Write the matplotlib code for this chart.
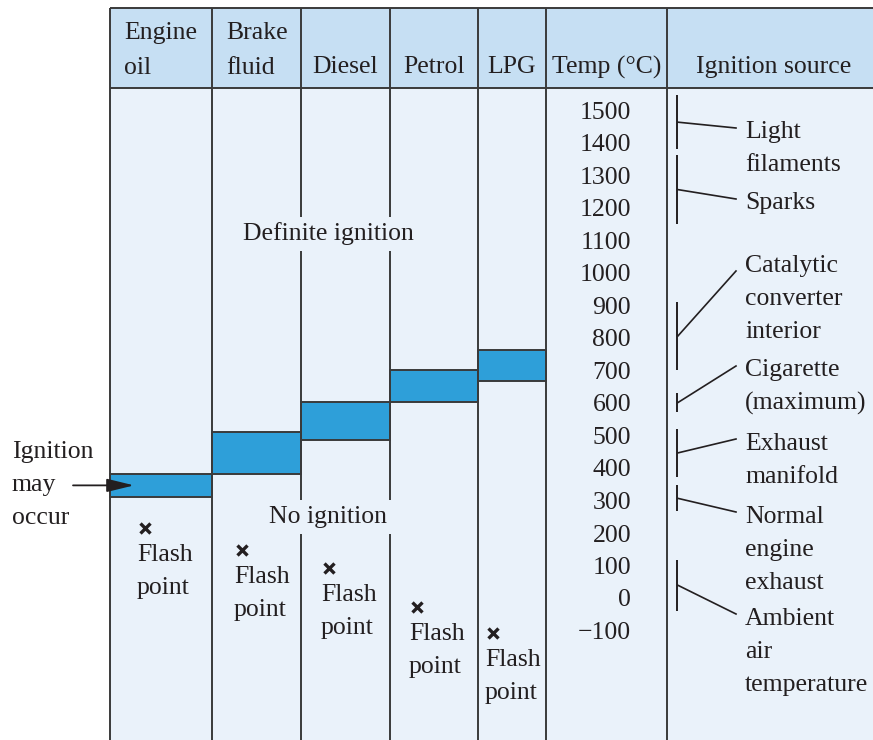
import matplotlib.pyplot as plt
from matplotlib.patches import Rectangle
from matplotlib.transforms import offset_copy

# values, temperatures in degrees C
fuels = ["Engine\noil", "Brake\nfluid", "Diesel", "Petrol", "LPG"]
ignition_low = [310, 380, 485, 600, 665]
ignition_high = [380, 510, 600, 700, 760]
flash_point = [215, 145, 90, -30, -110]

temp_ticks = [1500, 1400, 1300, 1200, 1100, 1000, 900, 800,
              700, 600, 500, 400, 300, 200, 100, 0, -100]
temp_labels = ["1500", "1400", "1300", "1200", "1100", "1000", "900", "800",
               "700", "600", "500", "400", "300", "200", "100", "0", "\u2212100"]

sources = ["Light\nfilaments", "Sparks", "Catalytic\nconverter\ninterior",
           "Cigarette\n(maximum)", "Exhaust\nmanifold",
           "Normal\nengine\nexhaust", "Ambient\nair\ntemperature"]
source_low = [1380, 1150, 700, 570, 370, 265, -40]
source_high = [1545, 1360, 910, 630, 520, 345, 115]

# layout (pixel rows/columns of the 873x740 picture)
PX_ZERO = 597.5      # pixel row of 0 degC
PX_PER_DEG = 0.325


def t_of(py):
    return (PX_ZERO - py) / PX_PER_DEG


col_edges = [110, 212, 301, 390, 478, 546, 667, 873]
TOP, HEAD_BOT, BOTTOM = 8, 88, 740
flash_x = [145, 242, 329, 417, 493]
leader_end_px = [128, 199, 271, 366, 439, 512, 614]
label_top_px = [121, 192, 255, 359, 433, 506, 608]

HEAD = "#c6dff3"
BODY = "#eaf2fa"
BAND = "#2e9fd9"
LINE = "#3a3a3a"
INK = "#231f20"

plt.rcParams['font.family'] = ['Liberation Serif', 'DejaVu Serif']
plt.rcParams['font.size'] = 18.5
plt.rcParams['text.color'] = INK
LS = 1.64

fig = plt.figure(figsize=(8.73, 7.40), dpi=100)
ax = fig.add_axes([0, 0, 1, 1])
ax.set_xlim(0, 873)
ax.set_ylim(t_of(BOTTOM), t_of(0))
ax.axis('off')
# single line texts sit a bit low in the original
low = offset_copy(ax.transData, fig=fig, y=-3, units='dots')

# hintergruende
ax.add_patch(Rectangle((col_edges[0], t_of(BOTTOM)), 873 - col_edges[0],
                       t_of(HEAD_BOT) - t_of(BOTTOM), color=BODY, lw=0, zorder=0))
ax.add_patch(Rectangle((col_edges[0], t_of(HEAD_BOT)), 873 - col_edges[0],
                       t_of(TOP) - t_of(HEAD_BOT), color=HEAD, lw=0, zorder=0))

# ignition bands
centers = [(a + b) / 2 for a, b in zip(col_edges[:5], col_edges[1:6])]
widths = [b - a for a, b in zip(col_edges[:5], col_edges[1:6])]
heights = [h - l for l, h in zip(ignition_low, ignition_high)]
ax.bar(centers, heights, bottom=ignition_low, width=widths, color=BAND,
       edgecolor=LINE, linewidth=1.4, zorder=3)

# grid lines
ax.vlines(col_edges[:7], t_of(BOTTOM), t_of(TOP), colors=LINE, lw=1.4, zorder=4)
ax.hlines([t_of(TOP), t_of(HEAD_BOT)], col_edges[0], 873, colors=LINE, lw=1.4, zorder=4)

# header
for i, name in enumerate(fuels):
    if "\n" in name:
        ax.text(col_edges[i] + 14, t_of(22), name, ha='left', va='top',
                linespacing=1.75, zorder=6)
    else:
        ax.text(centers[i], t_of(64), name, ha='center', va='center',
                transform=low, zorder=6)
ax.text((col_edges[5] + col_edges[6]) / 2, t_of(64), "Temp (\u00b0C)",
        ha='center', va='center', transform=low, zorder=6)
ax.text(774, t_of(64), "Ignition source", ha='center', va='center',
        transform=low, zorder=6)

# region labels, covering the column lines
box = dict(boxstyle='square,pad=0.22', facecolor=BODY, edgecolor='none')
ax.text(328, t_of(231), "Definite ignition", ha='center', va='center',
        bbox=box, transform=low, zorder=5)
ax.text(328, t_of(514), "No ignition", ha='center', va='center',
        bbox=box, transform=low, zorder=5)

# flash points
ax.plot(flash_x, flash_point, ls='none', marker='x', ms=7, mew=2.4,
        color=INK, zorder=6)
for x, t in zip(flash_x, flash_point):
    ax.text(x - 8, t - 16 / PX_PER_DEG, "Flash\npoint", ha='left', va='top',
            linespacing=LS, zorder=6)

# ignition may occur
ax.text(12, t_of(441), "Ignition\nmay\noccur", ha='left', va='top',
        linespacing=LS, zorder=6)
arrow_t = (ignition_low[0] + ignition_high[0]) / 2
ax.annotate("", xy=(134, arrow_t), xytext=(73, arrow_t),
            arrowprops=dict(arrowstyle='-|>,head_length=0.9,head_width=0.22',
                            color=INK, lw=1.3, shrinkA=0, shrinkB=0), zorder=7)

# temperature scale
for t, lab in zip(temp_ticks, temp_labels):
    ax.text(631, t, lab, ha='right', va='center', transform=low, zorder=6)

# ignition sources
ax.vlines([677] * len(sources), source_low, source_high, colors=INK, lw=1.4, zorder=6)
for i, name in enumerate(sources):
    mid = (source_low[i] + source_high[i]) / 2
    ax.plot([678, 736], [mid, t_of(leader_end_px[i])], color=INK, lw=1.2, zorder=6)
    ax.text(745, t_of(label_top_px[i]), name, ha='left', va='top',
            linespacing=LS, zorder=6)

plt.savefig('out.png', dpi=100)
